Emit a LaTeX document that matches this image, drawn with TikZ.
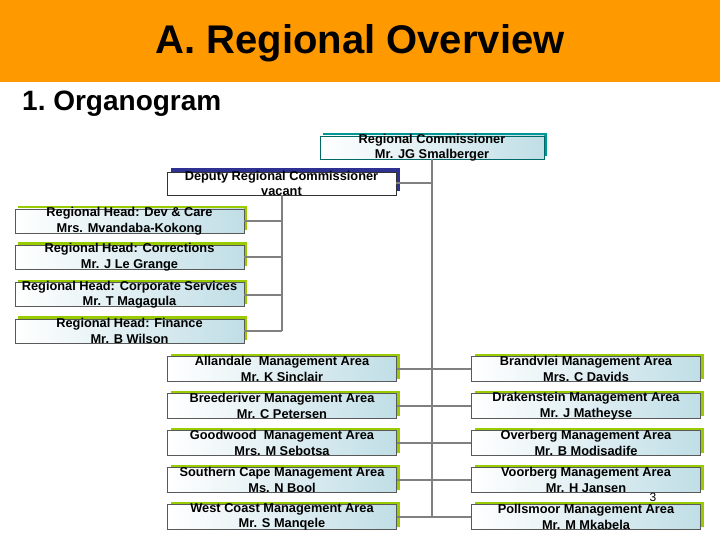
\documentclass[tikz,border=0pt]{standalone}
\usepackage{fontspec}
\setmainfont{Liberation Sans}
\usepackage{tikz}
\usetikzlibrary{shadows}
\definecolor{bannerOrange}{RGB}{255,153,0}
\definecolor{leafGreen}{RGB}{153,204,0}
\definecolor{tealShadow}{RGB}{0,150,150}
\definecolor{navyShadow}{RGB}{46,49,146}
\definecolor{paleBlue}{RGB}{192,222,230}
\definecolor{lineGray}{RGB}{128,128,128}

\begin{document}
\begin{tikzpicture}[
  x=1pt, y=-1pt,
  box/.style={draw=black!65, line width=0.5pt, minimum width=229pt, minimum height=24pt,
    inner xsep=0pt, inner ysep=-2pt, align=center,
    font=\fontsize{12.8}{15.5}\selectfont\bfseries},
  headbox/.style={box, left color=white, right color=paleBlue,
    drop shadow={shadow xshift=3pt, shadow yshift=3pt, fill=leafGreen, opacity=1}},
  areabox/.style={headbox, minimum width=229pt, minimum height=25pt},
  chiefbox/.style={box, draw=tealShadow!70!black, left color=white, right color=paleBlue,
    minimum width=224pt, minimum height=23pt,
    drop shadow={shadow xshift=3pt, shadow yshift=3pt, fill=tealShadow, opacity=1}},
  deputybox/.style={box, draw=black!80, fill=white, minimum height=23pt,
    drop shadow={shadow xshift=4pt, shadow yshift=4pt, fill=navyShadow, opacity=1}},
  link/.style={draw=lineGray, line width=2pt}
]
  \useasboundingbox (0,0) rectangle (720,540);
  \fill[bannerOrange] (0,0) rectangle (720,82);
  \node (title) at (360,43) {\fontsize{40}{46}\selectfont\bfseries A. Regional Overview};
  \node[anchor=west, inner sep=0pt] (subtitle) at (22,104) {\fontsize{28}{32}\selectfont\bfseries 1.\ Organogram};

  % top of the tree
  \node[chiefbox] (comm) at (432,147.5) {Regional Commissioner\\Mr. JG Smalberger};
  \node[deputybox] (dep) at (281.5,183.5) {Deputy Regional Commissioner\\vacant};

  % regional heads
  \node[headbox] (devcare) at (129.5,221) {Regional Head: Dev \& Care\\Mrs. Mvandaba-Kokong};
  \node[headbox] (corrections) at (129.5,257) {Regional Head: Corrections\\Mr. J Le Grange};
  \node[headbox] (corporate) at (129.5,294.5) {Regional Head: Corporate Services\\Mr. T Magagula};
  \node[headbox] (finance) at (129.5,331) {Regional Head: Finance\\Mr. B Wilson};

  % management areas
  \node[areabox] (allandale) at (282,369) {Allandale\ \ Management Area\\Mr. K Sinclair};
  \node[areabox] (breederiver) at (282,406) {Breederiver Management Area\\Mr. C Petersen};
  \node[areabox] (goodwood) at (282,443) {Goodwood\ \ Management Area\\Mrs. M Sebotsa};
  \node[areabox] (scape) at (282,480) {Southern Cape Management Area\\Ms. N Bool};
  \node[areabox] (wcoast) at (282,517) {West Coast Management Area\\Mr. S Manqele};
  \node[areabox] (brandvlei) at (586,369) {Brandvlei Management Area\\Mrs. C Davids};
  \node[areabox] (drakenstein) at (586,406) {Drakenstein Management Area\\Mr. J Matheyse};
  \node[areabox] (overberg) at (586,443) {Overberg Management Area\\Mr. B Modisadife};
  \node[areabox] (voorberg) at (586,480) {Voorberg Management Area\\Mr. H Jansen};
  \node[areabox] (pollsmoor) at (586,517) {Pollsmoor Management Area\\Mr. M Mkabela};

  \node[inner sep=0pt] (pagenum) at (653,497) {\fontsize{12}{14}\selectfont 3};

  \draw[link] (comm) -- (comm |- wcoast);
  \draw[link] (dep) -- (dep -| comm);
  \draw[link] (dep) -- (dep |- finance);
  \draw[link] (devcare) -- (devcare -| dep);
  \draw[link] (corrections) -- (corrections -| dep);
  \draw[link] (corporate) -- (corporate -| dep);
  \draw[link] (finance) -- (finance -| dep);
  \draw[link] (allandale) -- (brandvlei);
  \draw[link] (breederiver) -- (drakenstein);
  \draw[link] (goodwood) -- (overberg);
  \draw[link] (scape) -- (voorberg);
  \draw[link] (wcoast) -- (pollsmoor);
\end{tikzpicture}
\end{document}
